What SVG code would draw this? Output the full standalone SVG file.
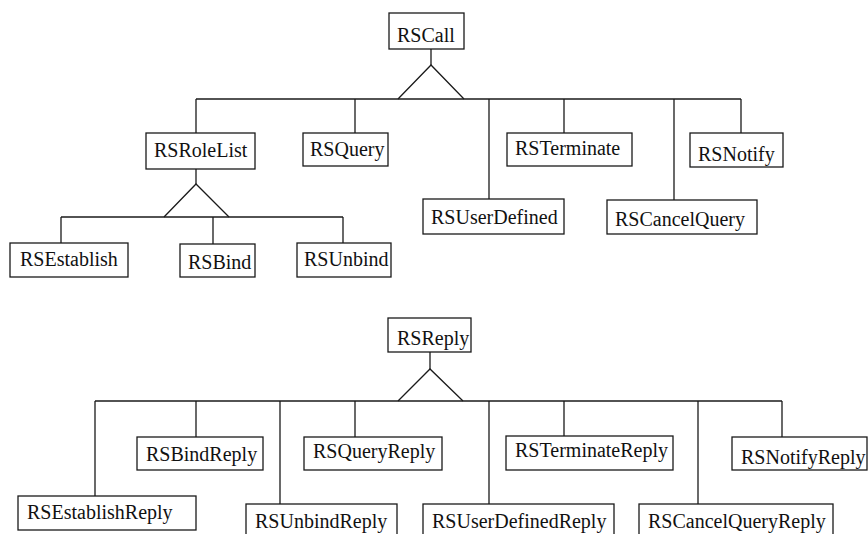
<svg xmlns="http://www.w3.org/2000/svg" width="868" height="534" viewBox="0 0 868 534">
  <style>
    .box { fill: #ffffff; stroke: #1a1a1a; stroke-width: 1.3; }
    .lbl { font-family: "Liberation Serif", "Times New Roman", serif; font-size: 20px; fill: #111111; }
    .conn { fill: none; stroke: #1a1a1a; stroke-width: 1.3; }
  </style>
  <rect width="868" height="534" fill="#ffffff"/>

  <!-- connectors: inheritance triangles and branch lines -->
  <g id="connectors" class="conn">
    <!-- RSCall hierarchy -->
    <line x1="431" y1="49" x2="431" y2="65"/>
    <polyline points="398,99 431,65 464,99"/>
    <line x1="196" y1="99" x2="741" y2="99"/>
    <line x1="196" y1="99" x2="196" y2="133"/>
    <line x1="355" y1="99" x2="355" y2="133"/>
    <line x1="489" y1="99" x2="489" y2="199"/>
    <line x1="564" y1="99" x2="564" y2="133"/>
    <line x1="674" y1="99" x2="674" y2="200"/>
    <line x1="741" y1="99" x2="741" y2="133"/>
    <!-- RSRoleList hierarchy -->
    <line x1="196" y1="169" x2="196" y2="184"/>
    <polyline points="164,217 196,184 229,217"/>
    <line x1="61" y1="217" x2="343" y2="217"/>
    <line x1="61" y1="217" x2="61" y2="243"/>
    <line x1="213" y1="217" x2="213" y2="244"/>
    <line x1="343" y1="217" x2="343" y2="243"/>
    <!-- RSReply hierarchy -->
    <line x1="430" y1="352" x2="430" y2="369"/>
    <polyline points="398,401 430,369 463,401"/>
    <line x1="95" y1="401" x2="782" y2="401"/>
    <line x1="95" y1="401" x2="95" y2="496"/>
    <line x1="196" y1="401" x2="196" y2="437"/>
    <line x1="280" y1="401" x2="280" y2="504"/>
    <line x1="355" y1="401" x2="355" y2="437"/>
    <line x1="489" y1="401" x2="489" y2="504"/>
    <line x1="564" y1="401" x2="564" y2="436"/>
    <line x1="698" y1="401" x2="698" y2="504"/>
    <line x1="782" y1="401" x2="782" y2="437"/>
  </g>

  <!-- call classes -->
  <g id="RSCall"><rect class="box" x="389" y="13" width="75" height="36"/><text class="lbl" x="397" y="42">RSCall</text></g>
  <g id="RSRoleList"><rect class="box" x="146" y="133" width="109" height="36"/><text class="lbl" x="154" y="157">RSRoleList</text></g>
  <g id="RSQuery"><rect class="box" x="303" y="133" width="85" height="33"/><text class="lbl" x="310" y="156">RSQuery</text></g>
  <g id="RSTerminate"><rect class="box" x="507" y="133" width="125" height="33"/><text class="lbl" x="515" y="155">RSTerminate</text></g>
  <g id="RSNotify"><rect class="box" x="690" y="133" width="93" height="34"/><text class="lbl" x="698" y="161">RSNotify</text></g>
  <g id="RSUserDefined"><rect class="box" x="423" y="199" width="141" height="35"/><text class="lbl" x="431" y="224">RSUserDefined</text></g>
  <g id="RSCancelQuery"><rect class="box" x="607" y="200" width="150" height="34"/><text class="lbl" x="615" y="226">RSCancelQuery</text></g>
  <g id="RSEstablish"><rect class="box" x="10" y="243" width="118" height="34"/><text class="lbl" x="20" y="266">RSEstablish</text></g>
  <g id="RSBind"><rect class="box" x="180" y="244" width="75" height="33"/><text class="lbl" x="188" y="269">RSBind</text></g>
  <g id="RSUnbind"><rect class="box" x="297" y="243" width="94" height="34"/><text class="lbl" x="304" y="266">RSUnbind</text></g>

  <!-- reply classes -->
  <g id="RSReply"><rect class="box" x="388" y="318" width="83" height="34"/><text class="lbl" x="397" y="345">RSReply</text></g>
  <g id="RSBindReply"><rect class="box" x="137" y="437" width="126" height="33"/><text class="lbl" x="146" y="461">RSBindReply</text></g>
  <g id="RSQueryReply"><rect class="box" x="304" y="437" width="138" height="33"/><text class="lbl" x="313" y="458">RSQueryReply</text></g>
  <g id="RSTerminateReply"><rect class="box" x="506" y="436" width="167" height="34"/><text class="lbl" x="515" y="457">RSTerminateReply</text></g>
  <g id="RSNotifyReply"><rect class="box" x="732" y="437" width="135" height="33"/><text class="lbl" x="741" y="464">RSNotifyReply</text></g>
  <g id="RSEstablishReply"><rect class="box" x="18" y="496" width="178" height="34"/><text class="lbl" x="27" y="519">RSEstablishReply</text></g>
  <g id="RSUnbindReply"><rect class="box" x="246" y="504" width="151" height="40"/><text class="lbl" x="255" y="528">RSUnbindReply</text></g>
  <g id="RSUserDefinedReply"><rect class="box" x="423" y="504" width="191" height="40"/><text class="lbl" x="432" y="528">RSUserDefinedReply</text></g>
  <g id="RSCancelQueryReply"><rect class="box" x="639" y="504" width="194" height="40"/><text class="lbl" x="648" y="528">RSCancelQueryReply</text></g>
</svg>
